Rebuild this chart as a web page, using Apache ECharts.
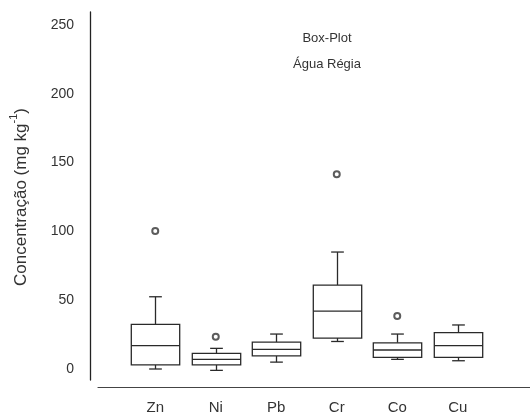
<!DOCTYPE html>
<html>
<head>
<meta charset="utf-8">
<script src="https://cdn.jsdelivr.net/npm/echarts@6/dist/echarts.min.js"></script>
<style>html,body{margin:0;padding:0;background:#fff}#c{width:530px;height:416px}</style>
</head>
<body>
<div id="c"></div>
<script>
const categories = ['Zn', 'Ni', 'Pb', 'Cr', 'Co', 'Cu'];
const whiskerLow = [0, -1, 5, 20, 7, 6];
const q1Values = [3, 3, 9.5, 22.5, 8.5, 8.5];
const medians = [17, 7, 14.3, 42, 13.8, 17];
const q3Values = [32.5, 11.4, 19.6, 61, 19, 26.4];
const whiskerHigh = [52.5, 15, 25.4, 85, 25.4, 32];
const outliers = [[0, 100.3], [1, 23.5], [3, 141.5], [4, 38.5]];
const yTicks = [0, 50, 100, 150, 200, 250];

const FONT = 'Liberation Sans, Arial, sans-serif';
const INK = '#333';

const chart = echarts.init(document.getElementById('c'));
const boxData = categories.map((c, i) => [i, whiskerLow[i], q1Values[i], medians[i], q3Values[i], whiskerHigh[i]]);

chart.setOption({
  animation: false,
  backgroundColor: '#fff',
  title: {
    text: 'Box-Plot',
    subtext: 'Água Régia',
    left: 322,
    top: 27,
    textAlign: 'center',
    itemGap: 13,
    textStyle: { fontFamily: FONT, fontSize: 13, fontWeight: 'normal', color: INK },
    subtextStyle: { fontFamily: FONT, fontSize: 13, color: INK }
  },
  grid: [
    { left: 122, right: 42, top: 25, bottom: 47 },
    { left: 90, right: 0, top: 12, bottom: 36 },
    { left: 98, right: 0, top: 12, bottom: 29 }
  ],
  xAxis: [
    {
      gridIndex: 0, type: 'category', data: categories, boundaryGap: true,
      axisLine: { show: false }, axisTick: { show: false },
      axisLabel: { margin: 31, fontFamily: FONT, fontSize: 15, color: INK }
    },
    { gridIndex: 1, type: 'value', show: false },
    {
      gridIndex: 2, type: 'value', min: 0, max: 1,
      axisLine: { show: true, lineStyle: { color: '#444', width: 1.2 } },
      axisTick: { show: false }, axisLabel: { show: false }, splitLine: { show: false }
    }
  ],
  yAxis: [
    {
      gridIndex: 0, type: 'value', min: yTicks[0], max: yTicks[yTicks.length - 1], interval: 50,
      offset: 32,
      axisLine: { show: false }, axisTick: { show: false }, splitLine: { show: false },
      axisLabel: { margin: 19, fontFamily: FONT, fontSize: 14, color: INK },
      name: '{a|Concentração (mg kg}{s|-1}{a|)}',
      nameLocation: 'middle',
      nameGap: 63,
      nameTextStyle: {
        rich: {
          a: { fontFamily: FONT, fontSize: 17, color: INK, lineHeight: 22, verticalAlign: 'bottom' },
          s: { fontFamily: FONT, fontSize: 11, color: INK, lineHeight: 22, verticalAlign: 'top' }
        }
      }
    },
    {
      gridIndex: 1, type: 'value', min: 0, max: 1,
      axisLine: { show: true, lineStyle: { color: '#222', width: 1.3 } },
      axisTick: { show: false }, axisLabel: { show: false }, splitLine: { show: false }
    },
    { gridIndex: 2, type: 'value', show: false }
  ],
  series: [
    {
      type: 'custom',
      xAxisIndex: 0, yAxisIndex: 0,
      data: boxData,
      encode: { x: 0, y: [1, 2, 3, 4, 5] },
      renderItem: function (params, api) {
        const idx = api.value(0);
        const pLo = api.coord([idx, api.value(1)]);
        const pQ1 = api.coord([idx, api.value(2)]);
        const pMed = api.coord([idx, api.value(3)]);
        const pQ3 = api.coord([idx, api.value(4)]);
        const pHi = api.coord([idx, api.value(5)]);
        const band = api.size([1, 0])[0];
        const bw = band * 0.8;
        const cw = band * 0.21;
        const cx = Math.round(pMed[0]) + 0.5;
        const st = { stroke: '#2a2a2a', lineWidth: 1.3, fill: null };
        return {
          type: 'group',
          children: [
            { type: 'line', shape: { x1: cx, y1: pQ3[1], x2: cx, y2: pHi[1] }, style: st },
            { type: 'line', shape: { x1: cx, y1: pQ1[1], x2: cx, y2: pLo[1] }, style: st },
            { type: 'line', shape: { x1: cx - cw / 2, y1: pHi[1], x2: cx + cw / 2, y2: pHi[1] }, style: st },
            { type: 'line', shape: { x1: cx - cw / 2, y1: pLo[1], x2: cx + cw / 2, y2: pLo[1] }, style: st },
            { type: 'rect', shape: { x: cx - bw / 2, y: pQ3[1], width: bw, height: pQ1[1] - pQ3[1] },
              style: { stroke: '#2a2a2a', lineWidth: 1.3, fill: '#fff' } },
            { type: 'line', shape: { x1: cx - bw / 2, y1: pMed[1], x2: cx + bw / 2, y2: pMed[1] }, style: st }
          ]
        };
      }
    },
    {
      type: 'scatter',
      xAxisIndex: 0, yAxisIndex: 0,
      data: outliers,
      symbol: 'emptyCircle',
      symbolSize: 6,
      z: 5,
      itemStyle: { color: '#333', borderColor: '#333', borderWidth: 1 }
    }
  ]
});
</script>
</body>
</html>
